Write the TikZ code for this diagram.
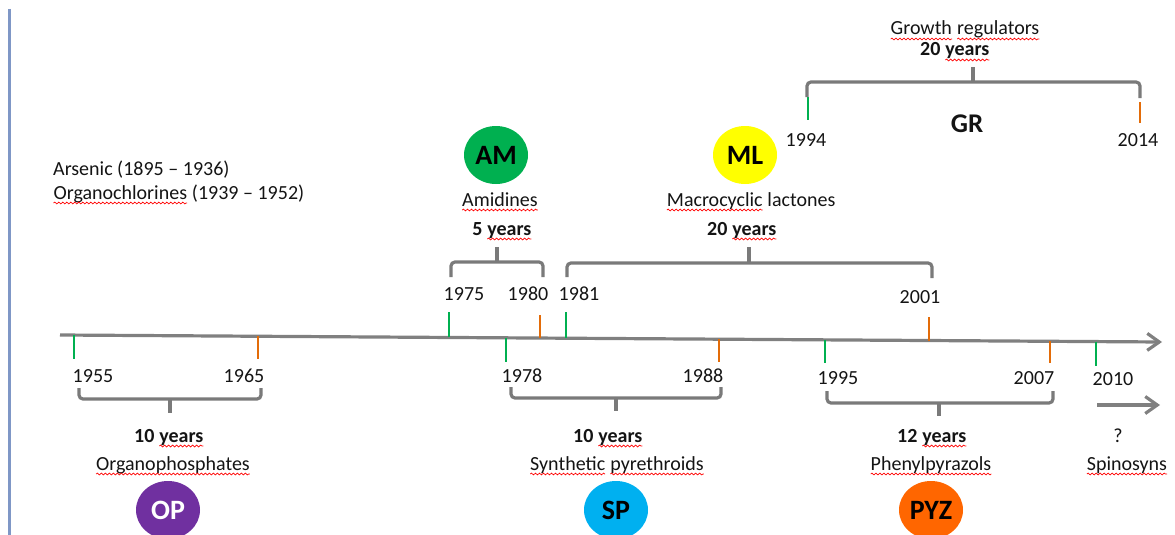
\documentclass[tikz,border=0pt]{standalone}
\usepackage{fontspec}
\setmainfont{Carlito}
\usetikzlibrary{arrows.meta,shapes.geometric,calc,decorations.pathmorphing}
\newcommand\sq[1]{\tikz[baseline=(w.base)]{\node[inner sep=0pt,outer sep=0pt,anchor=base] (w) at (0pt,0pt) {#1};\draw[red,line width=0.7pt,decorate,decoration={snake,amplitude=0.9pt,segment length=4pt}] ([yshift=-4pt]w.base west) -- ([yshift=-4pt]w.base east);}}
\definecolor{tg}{HTML}{00B050}
\definecolor{to}{HTML}{E36C09}
\definecolor{axc}{HTML}{808080}
\definecolor{brc}{HTML}{7A7A7A}
\definecolor{textc}{HTML}{141414}
\definecolor{bluel}{HTML}{7F97C6}
\definecolor{cam}{HTML}{00B050}
\definecolor{cml}{HTML}{FFFF00}
\definecolor{cop}{HTML}{7030A0}
\definecolor{csp}{HTML}{00B0F0}
\definecolor{cpyz}{HTML}{FF6600}
\begin{document}
\begin{tikzpicture}[x=1pt,y=-1pt,
  txt/.style={anchor=base,inner sep=0pt,text=textc,font=\fontsize{20}{24}\selectfont},
  btxt/.style={anchor=base,inner sep=0pt,text=textc,font=\fontsize{20}{24}\selectfont\bfseries},
  ltxt/.style={anchor=base west,inner sep=0pt,text=textc,font=\fontsize{20}{24}\selectfont},
  blob/.style={ellipse,minimum width=64pt,minimum height=58pt,inner sep=0pt,font=\fontsize{28}{30}\selectfont\bfseries},
  tickg/.style={draw=tg,line width=2.5pt},
  ticko/.style={draw=to,line width=2.5pt},
  brk/.style={draw=brc,line width=3.2pt,rounded corners=4pt},
  axis/.style={draw=axc,line width=3.2pt,-{Straight Barb[length=12pt,width=17pt]}}]
\useasboundingbox (0,0) rectangle (1175,535);
% left margin line
\draw[bluel,line width=3pt] (9.5,9) -- (9.5,535);
% main axis
\coordinate (a0) at (60,335);
\coordinate (a1) at (1162,342);
\draw[axis] (a0) -- (a1);
% ticks below
\draw[tickg] ($(a0)!(76,0)!(a1)$) -- ++(0,24);
\draw[ticko] ($(a0)!(260,0)!(a1)$) -- ++(0,23);
\draw[tickg] ($(a0)!(508,0)!(a1)$) -- ++(0,24);
\draw[ticko] ($(a0)!(721,0)!(a1)$) -- ++(0,23);
\draw[tickg] ($(a0)!(827,0)!(a1)$) -- ++(0,23);
\draw[ticko] ($(a0)!(1052,0)!(a1)$) -- ++(0,22);
\draw[tickg] ($(a0)!(1098,0)!(a1)$) -- ++(0,24);
% ticks above
\draw[tickg] ($(a0)!(451,0)!(a1)$) -- ++(0,-25);
\draw[ticko] ($(a0)!(542,0)!(a1)$) -- ++(0,-23);
\draw[tickg] ($(a0)!(568,0)!(a1)$) -- ++(0,-26);
\draw[ticko] ($(a0)!(931,0)!(a1)$) -- ++(0,-24);
% GR ticks
\draw[tickg] (808,97) -- (808,120);
\draw[ticko] (1140,102) -- (1140,123);
% year labels
\node[txt] (y1955) at (93,382) {1955};
\node[txt] (y1965) at (244,382) {1965};
\node[txt] (y1978) at (522,382) {1978};
\node[txt] (y1988) at (703,382) {1988};
\node[txt] (y1995) at (838,384) {1995};
\node[txt] (y2007) at (1034,384) {2007};
\node[txt] (y2010) at (1113,385) {2010};
\node[txt] (y1975) at (464,300) {1975};
\node[txt] (y1980) at (528,300) {1980};
\node[txt] (y1981) at (579,300) {1981};
\node[txt] (y2001) at (920,303) {2001};
\node[txt] (y1994) at (806,146) {1994};
\node[txt] (y2014) at (1138,146) {2014};
% brackets
\draw[brk] (79,388) |- (261,399) -- (261,388);
\draw[brk] (170,399) -- (170,413);
\draw[brk] (511,387) |- (721,398) -- (721,387);
\draw[brk] (616,398) -- (616,411);
\draw[brk] (827,391) |- (1053,403) -- (1053,391);
\draw[brk] (939,403) -- (939,416);
\draw[brk] (451,277) |- (543,262) -- (543,277);
\draw[brk] (497,262) -- (497,247);
\draw[brk] (567,277) |- (932,263) -- (932,278);
\draw[brk] (749,263) -- (749,247);
\draw[brk] (807,97) |- (1140,82) -- (1140,98);
\draw[brk] (973,82) -- (973,67);
% second arrow
\coordinate (s0) at (1097,405);
\coordinate (s1) at (1160,405);
\draw[axis] (s0) -- (s1);
% texts top-left
\node[ltxt] (ars) at (53,175) {Arsenic (1895 -- 1936)};
\node[ltxt] (orgc) at (53,199) {\sq{Organochlorines} (1939 -- 1952)};
% AM
\node[blob,fill=cam] (am) at (496,155) {AM};
\node[txt] (amid) at (500,206) {\sq{Amidines}};
\node[btxt] (am5) at (502,235) {5 \sq{years}};
% ML
\node[blob,fill=cml] (ml) at (745,155) {ML};
\node[txt] (mac) at (751,206) {\sq{Macrocyclic} lactones};
\node[btxt] (ml20) at (742,235) {20 \sq{years}};
% GR
\node[txt] (grw) at (965,35) {\sq{Growth} \sq{regulators}};
\node[btxt] (gr20) at (955,56) {20 \sq{years}};
\node[anchor=base,inner sep=0pt,text=textc,font=\fontsize{27}{30}\selectfont\bfseries] (gr) at (967,132) {GR};
% OP
\node[btxt] (op10) at (169,442) {10 \sq{years}};
\node[txt] (opn) at (173,470) {\sq{Organophosphates}};
\node[blob,fill=cop,text=white] (op) at (168,510) {OP};
% SP
\node[btxt] (sp10) at (608,442) {10 \sq{years}};
\node[txt] (spn) at (617,470) {\sq{Synthetic} \sq{pyrethroids}};
\node[blob,fill=csp] (sp) at (616,510) {SP};
% PYZ
\node[btxt] (pyz12) at (932,442) {12 \sq{years}};
\node[txt] (pyzn) at (931,470) {\sq{Phenylpyrazols}};
\node[blob,fill=cpyz] (pyz) at (931,510) {PYZ};
% Spinosyns
\node[txt] (q) at (1118,442) {?};
\node[txt] (spin) at (1127,470) {\sq{Spinosyns}};
\end{tikzpicture}
\end{document}
